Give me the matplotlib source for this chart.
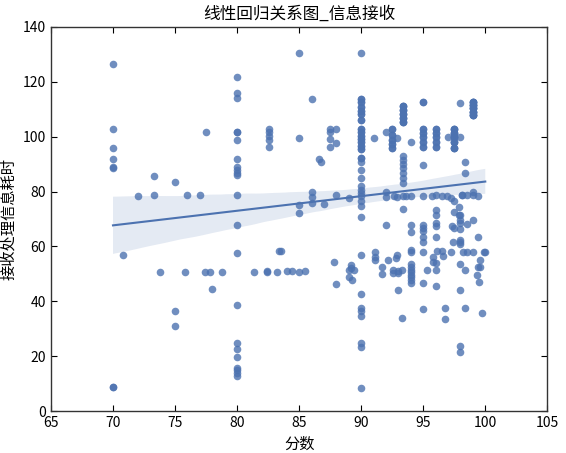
import numpy as np
import pandas as pd
import matplotlib
matplotlib.use('Agg')
import matplotlib.pyplot as plt
import seaborn as sns

# scores (分数) and handling times (接收处理信息耗时)
score = (
    [70] * 8 + [70.8, 72.0, 73.3, 73.3, 73.8, 75.0, 75.0, 75.0, 75.8, 76.0, 77.0, 77.4, 77.5, 77.85, 78.0, 78.8]
    + [80] * 22
    + [81.4, 82.4, 82.4] + [82.57] * 5 + [83.2, 83.4, 83.5, 84.0, 84.4]
    + [85.0] * 5 + [85.5] + [86.0] * 4 + [86.6, 86.8, 87.0] + [87.5] * 4 + [87.85] + [88.0] * 4
    + [89.0] * 3 + [89.2, 89.2, 89.4, 89.3]
    + [90] * 33
    + [91.04, 91.1, 91.1, 91.1, 91.7, 91.7] + [92.0] * 4 + [92.2] + [92.5] * 5 + [92.6, 92.6, 92.65, 92.8]
    + [92.9] * 3 + [93.0] * 3 + [93.3, 93.3] + [93.4] * 14 + [93.6] + [94.0] * 14
    + [95.0] * 16 + [95.3, 95.7, 95.8, 95.8] + [96.0] * 14 + [96.1, 96.5, 96.5, 96.6, 96.75, 96.75, 96.9]
    + [97.0, 97.2, 97.2, 97.3, 97.4] + [97.5] * 8 + [97.9, 97.9] + [98.0] * 13 + [98.1, 98.1, 98.2]
    + [98.35] * 4 + [98.5] * 3 + [99.0] * 9 + [99.3, 99.4, 99.4, 99.4, 99.6, 99.6, 99.75, 99.9, 100.0, 99.5]
)
time_cost = (
    [126.4, 102.7, 96, 91.8, 89.1, 88.5, 8.7, 8.7]
    + [56.9, 78.5, 85.7, 78.9, 50.7, 83.6, 36.5, 30.9, 50.7, 78.6, 78.6, 50.7, 101.5, 50.7, 44.5, 50.6]
    + [121.8, 115.8, 114, 101.7, 101.7, 98.7, 92, 89, 88, 86.7, 86, 78.9, 68, 57.6, 38.7, 24.7, 22.8,
       19.8, 15.8, 15, 13.9, 12.7]
    + [50.8, 51.2, 50.8] + [102.7, 101.5, 100.3, 98.6, 96.1] + [50.7, 58.4, 58.4, 51.1, 50.9]
    + [130.5, 99.6, 75.2, 72.1, 50.8] + [51.2] + [113.6, 80, 78, 76] + [91.8, 90.9, 75.4]
    + [102.7, 101.5, 99.1, 96.4] + [54.4] + [102.7, 97.6, 78.6, 46.4]
    + [77.6, 51.3, 48.9] + [53.2, 52.2, 51.4, 47.8]
    + [130.5, 113.7, 112.5, 110.7, 109.5, 108.3, 106.1, 102.7, 101.5, 100.3, 99.1, 97.9, 96.7, 95.5,
       92.3, 90.6, 88, 85, 81.9, 80.5, 79.5, 78.3, 76.5, 74.7, 70.9, 57, 42.8, 37.6, 36.4, 34.8, 24.9,
       23.3, 8.5]
    + [99.6, 58, 56.3, 55, 52.7, 50] + [101.5, 80, 77.9, 67.9] + [55] + [102.7, 100.5, 98.7, 97.2, 95.8]
    + [51.6, 50.5, 78.5, 55.8] + [99.6, 77.9, 57] + [51, 44.2, 50.5] + [51.3, 34]
    + [111.2, 109.7, 108.2, 106.7, 105.5, 93, 91.5, 90.1, 88.5, 86.7, 84.9, 83.1, 78.2, 73.7] + [78.5]
    + [98.1, 78.5, 67.9, 65.2, 58.8, 58, 53.6, 52.4, 51.5, 50.7, 49.7, 48.8, 47.9, 46.7]
    + [112.7, 102.8, 101.2, 99.8, 98.2, 96.4, 89.6, 78.2, 67.9, 66.8, 65.7, 63.6, 61.6, 58, 46.7, 37.3]
    + [51.5, 78.5, 56.2, 54.5]
    + [102.8, 101.2, 99.8, 98.2, 96.4, 78.8, 73.3, 71.4, 68.5, 67.3, 63.4, 54, 51.5, 45.7]
    + [58.3, 78.5, 58.5, 56.5, 37.6, 33.5, 78.2]
    + [99.7, 77.5, 58, 67.4, 61.7] + [102.9, 101.4, 99.7, 98.2, 95.8, 76.5, 72.7, 66.6] + [74.5, 71.4]
    + [112.1, 99.7, 71.6, 69.8, 68.4, 66.2, 62.5, 61.5, 61, 53.5, 44.3, 23.9, 21.5] + [78.6, 78.6, 58]
    + [90.7, 86.7, 51.6, 37.6] + [78.6, 68.3, 58]
    + [112.7, 111.5, 110.3, 109.1, 107.9, 78.6, 80, 69.5, 58]
    + [49.5, 78.3, 63.6, 52.5, 55, 52.5, 35.9, 58, 58, 47]
)

# repeated answers that sit on top of each other (the darker dots)
dup_score = (
    [93.4] * 10 + [95.0] * 6 + [96.0] * 5 + [97.5] * 10 + [99.0] * 15 + [92.5] * 5
    + [90] * 14
)
dup_time = (
    [111.2, 109.7, 108.2, 106.7, 105.5] * 2 + [112.7, 102.8, 101.2, 99.8, 98.2, 96.4]
    + [102.8, 101.2, 99.8, 98.2, 96.4] + [102.9, 101.4, 99.7, 98.2, 95.8] * 2
    + [112.7, 111.5, 110.3, 109.1, 107.9] * 3 + [102.7, 100.5, 98.7, 97.2, 95.8]
    + [113.7, 112.5, 110.7, 109.5, 108.3, 106.1, 102.7, 101.5, 100.3, 99.1, 97.9, 96.7, 95.5, 92.3]
)

df = pd.DataFrame({'分数': score + dup_score, '接收处理信息耗时': time_cost + dup_time})

plt.rcParams['font.family'] = ['Noto Sans CJK SC', 'DejaVu Sans']
plt.rcParams['axes.unicode_minus'] = False

fig = plt.figure(figsize=(5.66, 4.53), dpi=100)
ax = fig.add_axes([0.09, 0.092, 0.877, 0.849])
sns.regplot(x='分数', y='接收处理信息耗时', data=df, ax=ax, color='#4C72B0', seed=0,
            scatter_kws={'s': 30, 'alpha': 0.8, 'linewidths': 0},
            line_kws={'linewidth': 1.5})

ax.set_xlim(65, 105)
ax.set_ylim(0, 140)
ax.set_xticks(range(65, 106, 5))
ax.set_yticks(range(0, 141, 20))
ax.tick_params(direction='in', top=True, right=True, labelsize=10, length=4)
for s in ax.spines.values():
    s.set_color('#333333')
    s.set_linewidth(1.0)
ax.set_title('线性回归关系图_信息接收', fontsize=12)
ax.set_xlabel('分数', fontsize=11)
ax.set_ylabel('接收处理信息耗时', fontsize=11)

fig.savefig('out.png', dpi=100)
